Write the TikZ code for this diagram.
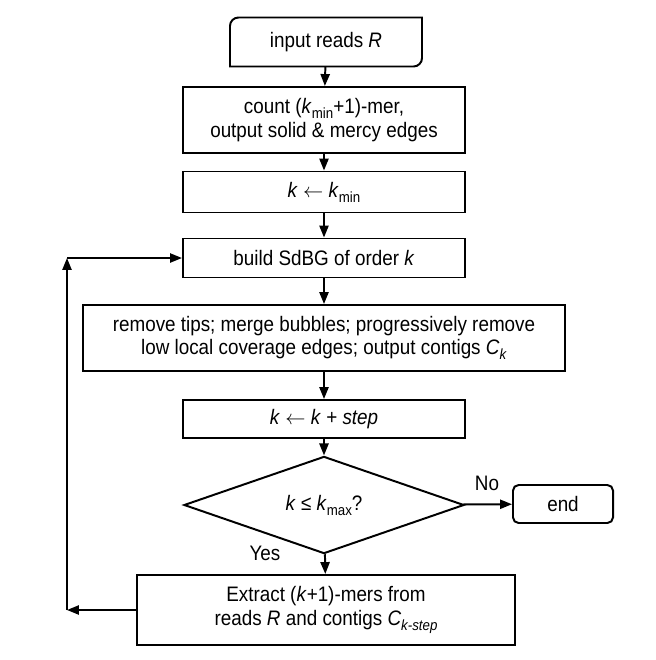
\documentclass[tikz,border=0pt]{standalone}
\usepackage{fontspec}
\setmainfont[FakeStretch=0.9]{Liberation Sans}
\usepackage{xcolor}
\usepackage{tikz}
\usetikzlibrary{shapes.geometric}
\usetikzlibrary{arrows.meta}
\newcommand{\Sub}[1]{\raisebox{-0.45ex}{\fontsize{10.5}{11}\selectfont #1}}
\newcommand{\Kmin}{\textit{k}\Sub{min}}
\newcommand{\Gets}{\ensuremath{\leftarrow}}
\tikzstyle{Box}=[draw,line width=1.4pt,align=center,inner sep=0pt,
minimum width=7.05cm,font=\fontsize{14.9}{16.6}\selectfont]
\tikzstyle{Term}=[Box,rounded corners=4pt,minimum width=2.5cm]
\tikzstyle{Cond}=[Box,diamond,minimum width=7cm,minimum height=2.075cm]
\tikzstyle{Edge}=[line width=1.4pt,-{Triangle[length=8.5pt,width=6.5pt]}]
\tikzstyle{Lbl}=[font=\fontsize{14.9}{15.6}\selectfont]

\begin{document}
\begin{tikzpicture}[x=0.025cm,y=-0.025cm]
        \useasboundingbox (0,0) rectangle (656,660);
        \node[Box,draw=none,minimum width=4.75cm,minimum height=1.175cm](in)at(326,42){input reads \textit{R}};
        \draw[line width=1.4pt]([xshift=6pt]in.north west)--(in.north east)--([yshift=6pt]in.south east)
            arc[start angle=0,end angle=-90,radius=6pt]--(in.south west)--([yshift=-6pt]in.north west)
            arc[start angle=180,end angle=90,radius=6pt]--cycle;
        \node[Box,minimum height=1.65cm](cnt)at(324,120){count (\Kmin+1)-mer,\\output solid \& mercy edges};
        \node[Box,minimum height=1.025cm](init)at(324,192){\textit{k} \Gets\ \Kmin};
        \node[Box,minimum height=0.975cm](bld)at(324,258){build SdBG of order \textit{k}};
        \node[Box,minimum width=12.05cm,minimum height=1.65cm](rem)at(324,338){remove tips; merge bubbles; progressively remove\\low local coverage edges; output contigs \textit{C}\Sub{\textit{k}}};
        \node[Box,minimum height=0.95cm](stp)at(324,419){\textit{k} \Gets\ \textit{k} + \textit{step}};
        \node[Cond](dec)at(324,505){\textit{k} ≤ \textit{k}\Sub{max}?};
        \node[Term,minimum height=0.95cm](end)at(563,504){end};
        \node[Box,minimum width=9.45cm,minimum height=1.75cm](ext)at(326,610){Extract (\textit{k}+1)-mers from\\reads \textit{R} and contigs \textit{C}\Sub{\textit{k-step}}};
        \node[Lbl](no)at(487,483){No};
        \node[Lbl](yes)at(265,553){Yes};
        \coordinate(c1)at(67,610);
        \coordinate(c2)at(67,258);
        \draw[Edge](in)--(cnt);
        \draw[Edge](cnt)--(init);
        \draw[Edge](init)--(bld);
        \draw[Edge](bld)--(rem);
        \draw[Edge](rem)--(stp);
        \draw[Edge](stp)--(dec);
        \draw[Edge](dec)--(ext);
        \draw[Edge](dec)--(end);
        \draw[Edge](ext)--(c1);
        \draw[Edge](c1)--(c2);
        \draw[Edge](c2)--(bld);
    \end{tikzpicture}
\end{document}
